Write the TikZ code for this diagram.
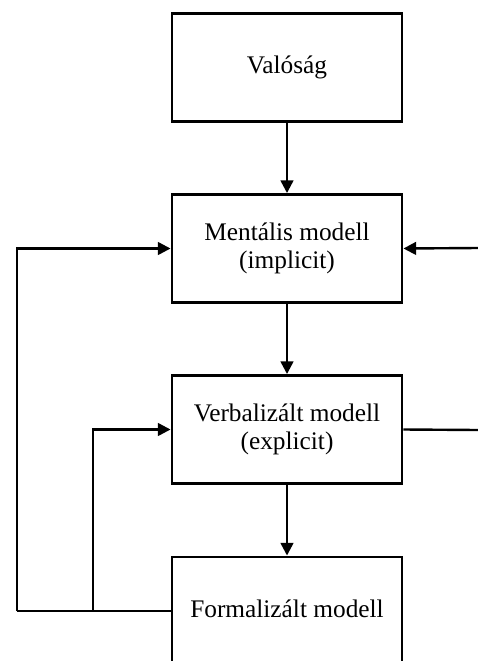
\documentclass[tikz,border=0pt]{standalone}
\usepackage{fontspec}
\setmainfont{Liberation Serif}
\usetikzlibrary{arrows.meta}
\begin{document}
\begin{tikzpicture}[x=0.75pt,y=-0.75pt,
  label font/.style={font=\fontsize{19}{21.5}\selectfont},
  stagebox/.style={draw,line width=2.2pt,minimum width=230*0.75pt,minimum height=108*0.75pt,
    align=center,inner sep=0pt,label font},
  link/.style={line width=1.8pt},
  flow/.style={link,-{Triangle[length=9.5pt,width=9.5pt]}}]
\useasboundingbox (0,0) rectangle (478,661);
\begin{scope}
\clip (0,0) rectangle (478,661);
\node[stagebox] (real) at (287,67.5) {Valóság};
\node[stagebox] (ment) at (287,248.5) {Mentális modell\\(implicit)};
\node[stagebox] (verb) at (287,429.5) {Verbalizált modell\\(explicit)};
\node[stagebox,minimum height=112*0.75pt] (form) at (287,613) {};
\node[label font,anchor=base] (formtext) at (287,617) {Formalizált modell};
\coordinate (outL) at (17,611);
\coordinate (inL) at (93,611);
\coordinate (inR) at (478,248);
\coordinate (outR) at (478,430);
\draw[flow] (real) -- (ment);
\draw[flow] (ment) -- (verb);
\draw[flow] (verb) -- (form);
\draw[link,line width=2.2pt] (form.west |- outL) -- (outL);
\draw[flow] (outL) |- (ment.west);
\draw[flow] (inL) |- (verb.west);
\draw[flow] (inR) -- (ment.east);
\draw[link] (verb.east) -- (outR);
\end{scope}
\end{tikzpicture}
\end{document}
